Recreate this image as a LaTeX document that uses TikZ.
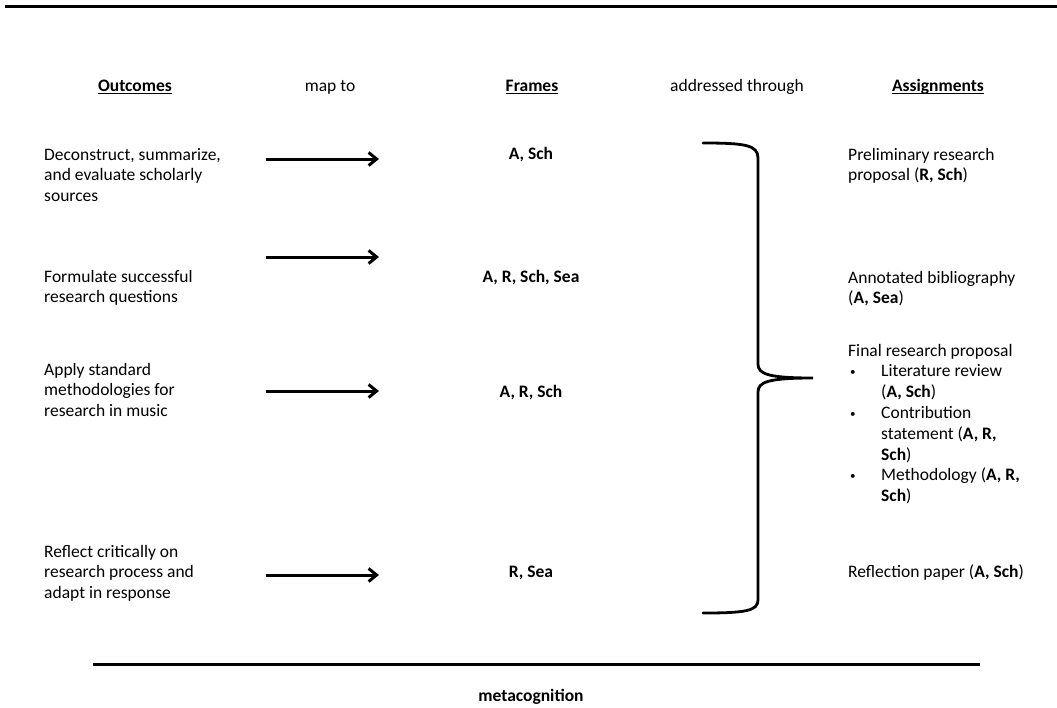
\documentclass[tikz,border=0pt]{standalone}
\usepackage{fontspec}
\setmainfont{Carlito}
\usetikzlibrary{arrows.meta}
\newcommand{\smbul}{\raisebox{1pt}{\fontsize{11}{11}\selectfont•}}
\begin{document}
\begin{tikzpicture}[x=1pt,y=-1pt,
  txt/.style={inner sep=0pt,font=\fontsize{17.5}{20.8}\selectfont,text=black},
  hd/.style={txt,anchor=base},
  frame/.style={txt,anchor=base,font=\fontsize{17.5}{20.8}\selectfont\bfseries},
  lst/.style={txt,anchor=base west},
  uline/.style={line width=1.2pt},
  conn/.style={line width=3pt,-{Straight Barb[length=8pt,width=13pt]}},
  rulel/.style={line width=3pt},
  bracel/.style={line width=2.8pt,line cap=round}
]
\useasboundingbox (0,0) rectangle (1057,707);
\fill[white] (0,0) rectangle (1057,707);

% top rule
\coordinate (tl) at (5,6);
\coordinate (tr) at (1057,6);
\draw[rulel] (tl) -- (tr);

% headers
\node[hd] (hO) at (135,91) {\textbf{Outcomes}};
\node[hd] (hM) at (330,91) {map to};
\node[hd] (hF) at (532,91) {\textbf{Frames}};
\node[hd] (hA) at (737,91) {addressed through};
\node[hd] (hS) at (938,91) {\textbf{Assignments}};
\foreach \n in {hO,hF,hS}
  \draw[uline] ([yshift=-2.5pt]\n.base west) -- ([yshift=-2.5pt]\n.base east);

% outcomes
\node[lst] (o1) at (44,160) {\begin{tabular}[t]{@{}l@{}}Deconstruct, summarize,\\ and evaluate scholarly\\ sources\end{tabular}};
\node[lst] (o2) at (44,282) {\begin{tabular}[t]{@{}l@{}}Formulate successful\\ research questions\end{tabular}};
\node[lst] (o3) at (44,375) {\begin{tabular}[t]{@{}l@{}}Apply standard\\ methodologies for\\ research in music\end{tabular}};
\node[lst] (o4) at (44,557) {\begin{tabular}[t]{@{}l@{}}Reflect critically on\\ research process and\\ adapt in response\end{tabular}};

% arrows
\coordinate (a1s) at (266,159); \coordinate (a1e) at (379,159);
\coordinate (a2s) at (266,257); \coordinate (a2e) at (379,257);
\coordinate (a3s) at (266,391); \coordinate (a3e) at (379,391);
\coordinate (a4s) at (266,575); \coordinate (a4e) at (379,575);
\draw[conn] (a1s) -- (a1e);
\draw[conn] (a2s) -- (a2e);
\draw[conn] (a3s) -- (a3e);
\draw[conn] (a4s) -- (a4e);

% frames
\node[frame] (f1) at (531,159) {A, Sch};
\node[frame] (f2) at (531,282) {A, R, Sch, Sea};
\node[frame] (f3) at (531,397) {A, R, Sch};
\node[frame] (f4) at (531,577) {R, Sea};

% brace
\coordinate (bT) at (703,143);
\coordinate (bM) at (813,378);
\coordinate (bB) at (703,613);
\draw[bracel] (bT) .. controls (745,143) and (758,145) .. (758,158) -- (758,364)
  .. controls (758,374) and (768,378) .. (bM)
  .. controls (768,378) and (758,382) .. (758,392) -- (758,600)
  .. controls (758,611) and (745,613) .. (bB);

% assignments
\node[lst] (s1) at (848,160) {\begin{tabular}[t]{@{}l@{}}Preliminary research\\ proposal (\textbf{R, Sch})\end{tabular}};
\node[lst] (s2) at (848,283) {\begin{tabular}[t]{@{}l@{}}Annotated bibliography\\ (\textbf{A, Sea})\end{tabular}};
\node[lst] (s3) at (848,356) {\begin{tabular}[t]{@{}l@{}l@{}}
\multicolumn{2}{@{}l@{}}{Final research proposal}\\
\makebox[33pt][l]{\hspace{2pt}\smbul} & Literature review\\
 & (\textbf{A, Sch})\\
\hspace{2pt}\smbul & Contribution\\
 & statement (\textbf{A, R,}\\
 & \textbf{Sch})\\
\hspace{2pt}\smbul & Methodology (\textbf{A, R,}\\
 & \textbf{Sch})
\end{tabular}};
\node[lst] (s4) at (848,577) {Reflection paper (\textbf{A, Sch})};

% bottom rule
\coordinate (bl) at (93,664);
\coordinate (br) at (980,664);
\draw[rulel] (bl) -- (br);
\node[frame] (meta) at (531,701) {metacognition};
\end{tikzpicture}
\end{document}
